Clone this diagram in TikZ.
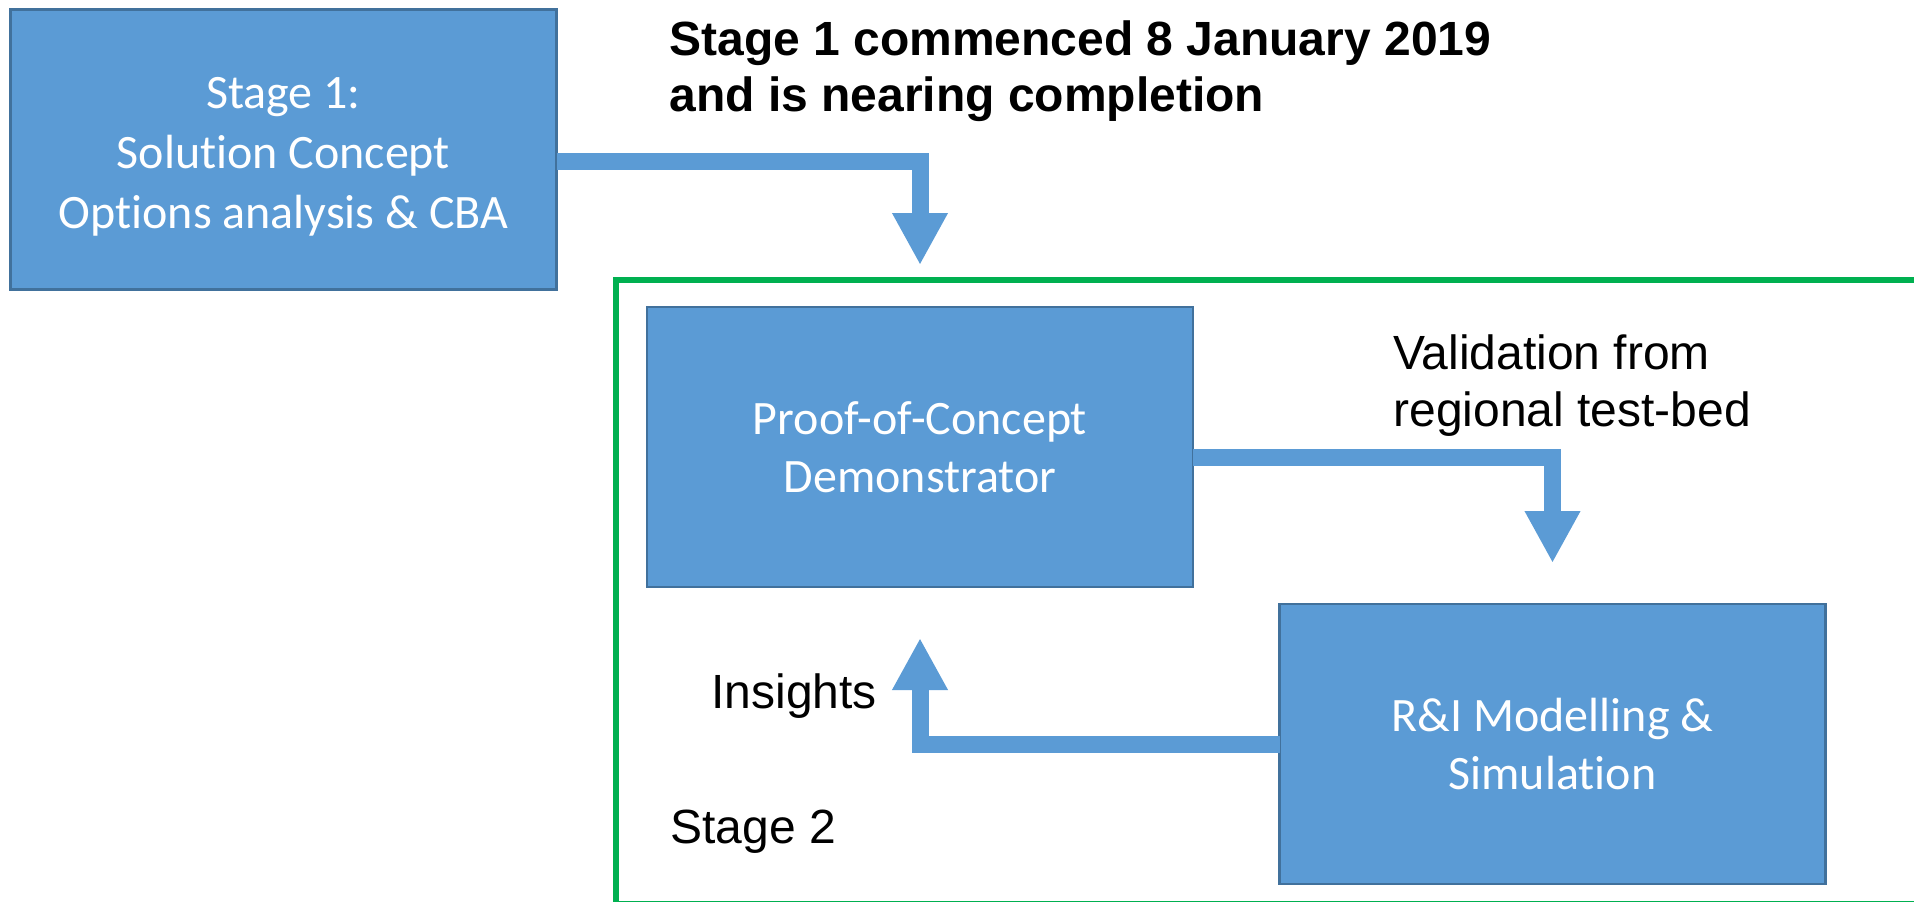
\documentclass[tikz,border=0pt]{standalone}
\usepackage{fontspec}
\setmainfont{Liberation Sans}
\newfontfamily\boxfont[Ligatures={NoCommon}]{Carlito}
\usetikzlibrary{%
	calc,%
	arrows.meta,%
	positioning
}
\definecolor{boxblue}{HTML}{5B9BD5}
\definecolor{boxedge}{HTML}{41719C}
\definecolor{framegreen}{HTML}{00B050}

\begin{document}
\begin{tikzpicture}[x=0.5pt, y=-0.5pt,
		stagebox/.style={draw=boxedge, line width=1.2pt, fill=boxblue, text=white, inner sep=0pt, outer sep=0pt, minimum width=273pt, minimum height=140pt, align=center, font=\boxfont\fontsize{24}{28.75}\selectfont},
		stageframe/.style={draw=framegreen, line width=3pt, inner sep=0pt, outer sep=0pt, minimum width=660pt, minimum height=312pt},
		flow/.style={draw=boxblue, line width=8.5pt, line join=miter, -{Triangle[width=26pt, length=26pt]}},
		label/.style={inner sep=0pt, font=\fontsize{24}{28.5}\selectfont, align=left}]
			
			\useasboundingbox (0,0) rectangle (1914,901);
			\clip (0,0) rectangle (1914,901);
			
			\node[stageframe, anchor=north west] (stage2) at (616,280) {};
			
			\node[stagebox, font=\boxfont\fontsize{24}{30}\selectfont] (s1) at (283.5,149.5) {\rule{0pt}{23pt}Stage 1:\\Solution Concept\\Options analysis \& CBA};
			\node[stagebox] (poc) at (920,447) {Proof-of-Concept\\Demonstrator};
			\node[stagebox] (ri) at (1552.5,744) {R\&I Modelling \&\\Simulation};
			
			\node[label, font=\bfseries\fontsize{24}{28}\selectfont, anchor=north west] (note) at (669,20) {Stage 1 commenced 8 January 2019\\and is nearing completion};
			\node[label, anchor=north west] (valid) at (1393,334) {Validation from\\regional test-bed};
			\node[label, anchor=base west] (insights) at (711,708) {Insights};
			\node[label, anchor=base west] (stagetwo) at (670,843) {Stage 2};
			
			\draw[flow] ([yshift=-5.75pt]s1.east) -| ([yshift=7.5pt]stage2.north -| poc.north);
			\draw[flow, shorten >=20.5pt] ([yshift=-5.25pt]poc.east) -| (ri.north);
			\draw[flow, shorten >=25.5pt] (ri.west) -| (poc.south);
		\end{tikzpicture}
\end{document}
